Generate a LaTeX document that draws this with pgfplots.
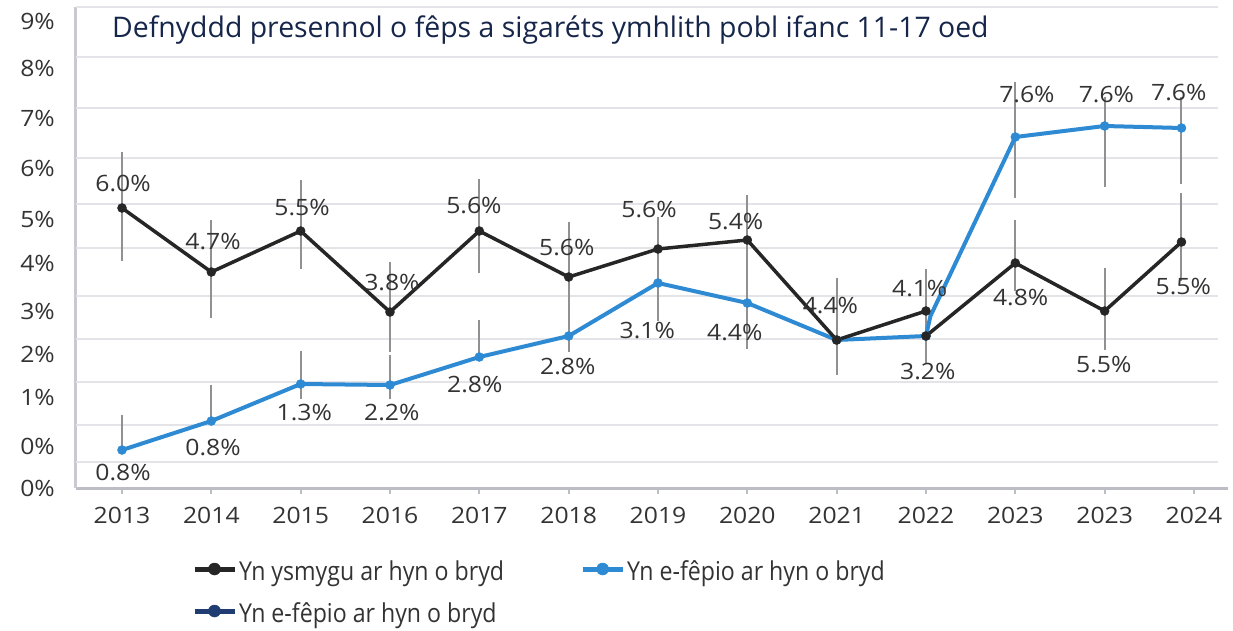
\documentclass[border=0pt]{standalone}
\usepackage{fontspec}
\usepackage{pgfplots}
\pgfplotsset{compat=1.18}
\setmainfont{Open Sans}
\newfontfamily\labfont[FakeStretch=1.1]{Open Sans}
\newfontfamily\titlefont{Open Sans}
\newfontfamily\legfont[FakeStretch=0.89]{Open Sans}
\definecolor{smoke}{HTML}{262626}
\definecolor{vape}{HTML}{2E8BD3}
\definecolor{navy}{HTML}{1F3D73}
\definecolor{titlec}{HTML}{16264A}
\definecolor{gridc}{HTML}{E4E4E8}
\definecolor{axisc}{HTML}{BDBDC6}
\definecolor{axisl}{HTML}{C9C9D2}
\definecolor{errc}{HTML}{919191}
\definecolor{labc}{HTML}{333333}
\tikzset{lab/.style={font=\labfont\fontsize{22.5pt}{26pt}\selectfont, text=labc, inner sep=0pt, anchor=center}}
\begin{document}
\begin{tikzpicture}
\begin{axis}[
  at={(0pt,0pt)}, anchor=south west,
  x=89.33pt, y=1pt,
  xmin=-0.515, xmax=12.27, ymin=0, ymax=481,
  clip=false,
  axis x line*=bottom, axis y line*=left,
  x axis line style={draw=axisc, line width=3pt},
  y axis line style={draw=axisl, line width=3pt},
  tick align=outside,
  major tick length=6pt,
  xtick={0,...,12},
  xticklabels={2013,2014,2015,2016,2017,2018,2019,2020,2021,2022,2023,2023,2024},
  xtick style={draw=axisc, line width=2pt},
  ytick={0,42,91,134,177,225,269,320,370,420,467},
  yticklabels={\raisebox{-5pt}{0\%},0\%,1\%,2\%,3\%,4\%,5\%,6\%,7\%,8\%,9\%},
  ytick style={draw=none},
  ticklabel style={font=\labfont\fontsize{22.5pt}{26pt}\selectfont, text=labc, inner sep=0pt},
  yticklabel style={anchor=east, xshift=-15pt},
  xticklabel style={anchor=north, yshift=-13pt},
  extra y ticks={26,63,106,149,192,240,284,330,380,431,481},
  extra y tick labels={},
  extra y tick style={grid=major, major grid style={draw=gridc, line width=2pt}, tick style={draw=none}},
  legend columns=2,
  legend cell align=left,
  legend style={at={(0.1016,-0.1497)}, anchor=north west, draw=none, fill=none,
    inner sep=0pt, outer sep=0pt, row sep=16pt, column sep=2pt,
    nodes={inner sep=0pt, text height=20pt, text depth=6pt,
      font=\legfont\fontsize{26pt}{30pt}\selectfont, text=labc},
    /tikz/every even column/.append style={column sep=76pt}},
  legend image code/.code={\draw[#1, mark repeat=2, mark phase=2] plot coordinates {(0pt,4pt) (20pt,4pt) (40pt,4pt)};},
]
\addlegendimage{smoke, line width=5pt, mark=*, mark size=6pt, mark options={line width=0.5pt}}
\addlegendentry{Yn ysmygu ar hyn o bryd}
\addlegendimage{vape, line width=5pt, mark=*, mark size=6pt, mark options={line width=0.5pt}}
\addlegendentry{Yn e-fêpio ar hyn o bryd}
\addlegendimage{navy, line width=5pt, mark=*, mark size=6pt, mark options={line width=0.5pt}}
\addlegendentry{Yn e-fêpio ar hyn o bryd}

% error bars (bottom value, + length to top)
\addplot[forget plot, draw=none, mark=none,
  error bars/.cd, y dir=both, y explicit,
  error bar style={draw=errc, line width=2pt},
  error mark options={draw=errc, line width=2pt, mark size=3.5pt}]
coordinates {
 (0,231) += (0,102) -= (0,0)
 (1,174) += (0,91) -= (0,0)
 (2,223) += (0,82) -= (0,0)
 (3,140) += (0,83) -= (0,0)
 (4,219) += (0,87) -= (0,0)
 (5,183) += (0,80) -= (0,0)
 (6,171) += (0,97) -= (0,0)
 (7,222) += (0,68) -= (0,0)
 (8,117) += (0,90) -= (0,0)
 (9,128) += (0,88) -= (0,0)
 (10,201) += (0,64) -= (0,0)
 (11,142) += (0,75) -= (0,0)
 (11.86,211) += (0,81) -= (0,0)
 (0,38) += (0,32) -= (0,0)
 (1,67) += (0,33) -= (0,0)
 (2,93) += (0,41) -= (0,0)
 (3,93) += (0,37) -= (0,0)
 (4,131) += (0,34) -= (0,0)
 (5,140) += (0,43) -= (0,0)
 (7,143) += (0,79) -= (0,0)
 (10,294) += (0,109) -= (0,0)
 (11,305) += (0,83) -= (0,0)
 (11.86,308) += (0,80) -= (0,0)
};

% e-cigarettes (blue)
\addplot[forget plot, vape, line width=4pt, line join=round, mark=*, mark size=4.5pt, mark options={line width=0.5pt}]
coordinates {(0,38) (1,67) (2,104) (3,103) (4,131) (5,152) (6,205) (7,185) (8,148) (9,152)};
\addplot[forget plot, vape, line width=4pt, line join=round]
coordinates {(9,152) (9.05,172) (10,351)};
\addplot[forget plot, vape, line width=4pt, line join=round, mark=*, mark size=4.5pt, mark options={line width=0.5pt}]
coordinates {(10,351) (11,362) (11.86,360)};

% smoking (black)
\addplot[forget plot, smoke, line width=3.5pt, line join=round, mark=*, mark size=4.5pt, mark options={line width=0.5pt}]
coordinates {(0,280) (1,216) (2,257) (3,176) (4,257) (5,211) (6,239) (7,248) (8,148) (9,177)};
\addplot[forget plot, smoke, line width=3.5pt, line join=round, mark=*, mark size=4.5pt, mark options={line width=0.5pt}]
coordinates {(9,152) (10,225) (11,177) (11.86,246)};

\draw[axisc, line width=3pt] (axis cs:12.27,0) -- (axis cs:12.38,0);

% data labels, black series
\node[lab] at (axis cs:0.011,305) {6.0\%};
\node[lab] at (axis cs:1.019,246) {4.7\%};
\node[lab] at (axis cs:2.015,280) {5.5\%};
\node[lab] at (axis cs:3.022,205) {3.8\%};
\node[lab] at (axis cs:3.94,282) {5.6\%};
\node[lab] at (axis cs:4.98,240) {5.6\%};
\node[lab] at (axis cs:5.90,278) {5.6\%};
\node[lab] at (axis cs:6.87,266) {5.4\%};
\node[lab] at (axis cs:7.93,182) {4.4\%};
\node[lab] at (axis cs:8.93,199) {4.1\%};
\node[lab] at (axis cs:10.06,190) {4.8\%};
\node[lab] at (axis cs:10.99,123) {5.5\%};
\node[lab] at (axis cs:11.88,201) {5.5\%};
% data labels, blue series
\node[lab] at (axis cs:0.011,16) {0.8\%};
\node[lab] at (axis cs:1.019,41) {0.8\%};
\node[lab] at (axis cs:2.04,75) {1.3\%};
\node[lab] at (axis cs:3.02,75) {2.2\%};
\node[lab] at (axis cs:3.95,103) {2.8\%};
\node[lab] at (axis cs:4.99,121) {2.8\%};
\node[lab] at (axis cs:5.88,157) {3.1\%};
\node[lab] at (axis cs:6.86,155) {4.4\%};
\node[lab] at (axis cs:9.02,116) {3.2\%};
\node[lab] at (axis cs:10.13,393) {7.6\%};
\node[lab] at (axis cs:11.02,393) {7.6\%};
\node[lab] at (axis cs:11.83,395) {7.6\%};

% title
\node[anchor=base west, inner sep=0pt, text=titlec, font=\titlefont\fontsize{28.4pt}{32pt}\selectfont]
  at (axis cs:-0.112,450) {Defnyddd presennol o fêps a sigaréts ymhlith pobl ifanc 11-17 oed};
\end{axis}
\pgfresetboundingbox
\path[use as bounding box] (-76pt,-142pt) rectangle (1157pt,488pt);
\end{tikzpicture}
\end{document}
